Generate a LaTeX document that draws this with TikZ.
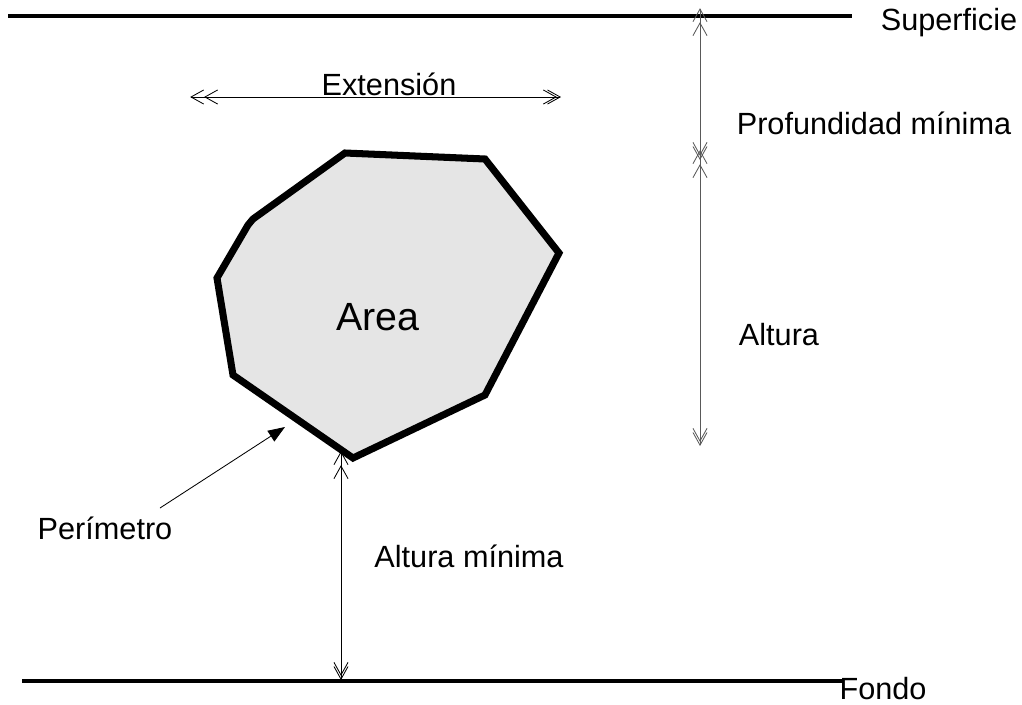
\documentclass[tikz,border=0pt]{standalone}
\usepackage{fontspec}
\setmainfont{Liberation Sans}
\usetikzlibrary{arrows.meta}

\begin{document}
\begin{tikzpicture}[x=0.025cm, y=-0.025cm,
    lbl/.style={font=\fontsize{21.8}{26}\selectfont, inner sep=0pt, anchor=base},
    level/.style={line width=2.2pt},
    dim/.style={line width=0.6pt, {Straight Barb[length=9pt,width=10pt,sep=-7pt]Straight Barb[length=9pt,width=10pt]}-{Straight Barb[length=9pt,width=10pt,sep=-7pt]Straight Barb[length=9pt,width=10pt]}},
    blob/.style={line width=5pt, line join=miter, fill=gray!20}]
        \useasboundingbox (0,0) rectangle (1022,705);

        % Nodes
        \coordinate (s1) at (8,16);
        \coordinate (s2) at (852,16);
        \coordinate (f1) at (22,681);
        \coordinate (f2) at (843,681);
        \coordinate (e1) at (200,97);
        \coordinate (e2) at (561,97);
        \coordinate (p1) at (700,18);
        \coordinate (p2) at (700,160);
        \coordinate (a1) at (700,446);
        \coordinate (m1) at (341,461);
        \coordinate (m2) at (341,680);
        \coordinate (q1) at (160,508);
        \coordinate (q2) at (285,427);

        % Area
        \draw[blob] (345,153) -- (485,159) -- (559,253) -- (485,395) -- (353,458)
            -- (233,375) -- (217,278) -- (248,225) -- (253,219) -- cycle;

        % Edges
        \draw[level] (s1) -- (s2);
        \draw[level] (f1) -- (f2);
        \draw[dim] (e1) -- (e2);
        \draw[dim, gray!70!black] (p1) -- (p2);
        \draw[dim, gray!70!black] (p2) -- (a1);
        \draw[dim] (m1) -- (m2);
        \draw[line width=0.6pt, -{Triangle[length=12pt,width=9pt]}] (q1) -- (q2);

        % Labels
        \node[lbl] (sup) at (949,30) {Superficie};
        \node[lbl] (fon) at (883,699) {Fondo};
        \node[lbl] (ext) at (389,95) {Extensión};
        \node[lbl] (pro) at (874,134) {Profundidad mínima};
        \node[lbl] (alt) at (779,345) {Altura};
        \node[lbl] (are) at (378,330) {\fontsize{28}{34}\selectfont Area};
        \node[lbl] (per) at (105,539) {Perímetro};
        \node[lbl] (min) at (469,567) {Altura mínima};
\end{tikzpicture}
\end{document}
